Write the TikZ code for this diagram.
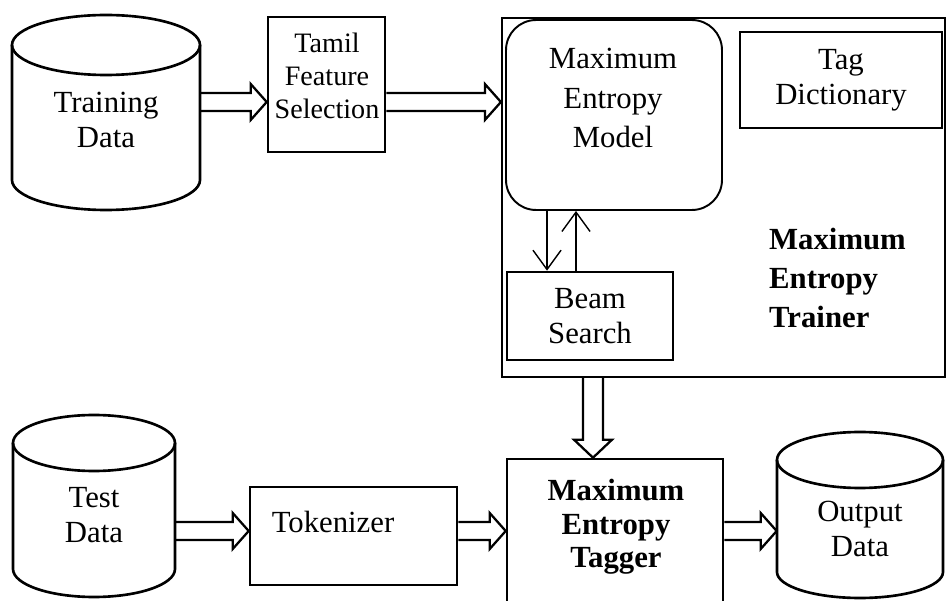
\documentclass[tikz,border=0pt]{standalone}
\usepackage{fontspec}
\setmainfont{Liberation Serif}
\usetikzlibrary{arrows.meta, calc}

\tikzset{
  box/.style={draw, line width=1.5pt, inner sep=0pt},
  txt/.style={align=center, font=\fontsize{17.5}{20}\selectfont},
  btxt/.style={align=center, font=\bfseries\fontsize{17.5}{19}\selectfont},
  hblock/.style={line width=1.3pt, to path={($(\tikztostart)+(0,-9)$) -- ($(\tikztotarget)+(-16,-9)$)
      -- ($(\tikztotarget)+(-16,-18)$) -- (\tikztotarget) -- ($(\tikztotarget)+(-16,18)$)
      -- ($(\tikztotarget)+(-16,9)$) -- ($(\tikztostart)+(0,9)$)}},
  vblock/.style={line width=1.3pt, to path={($(\tikztostart)+(-10,0)$) -- ($(\tikztotarget)+(-10,-18)$)
      -- ($(\tikztotarget)+(-19,-18)$) -- (\tikztotarget) -- ($(\tikztotarget)+(19,-18)$)
      -- ($(\tikztotarget)+(10,-18)$) -- ($(\tikztostart)+(10,0)$)}}
}

\begin{document}
\begin{tikzpicture}[x=0.02cm, y=-0.02cm, >={Straight Barb[length=11pt,width=16pt]}]
  \useasboundingbox (0,0) rectangle (948,601);
  \clip (0,0) rectangle (948,601);

  % Training data
  \draw[line width=1.5pt] (12,45) -- (12,180) arc[start angle=180, end angle=0, x radius=94, y radius=30] -- (200,45);
  \draw[line width=1.5pt] (106,45) ellipse[x radius=94, y radius=30];
  \node[txt, minimum width=3.76cm] (train) at (106,120) {Training\\Data};

  % Tamil feature selection
  \node[box, minimum width=2.34cm, minimum height=2.7cm] (tamil) at (326.5,84.5) {};
  \node[txt, font=\fontsize{16}{19}\selectfont] (tamiltxt) at (327,76) {Tamil\\Feature\\Selection};

  % Trainer
  \node[box, line width=1.3pt, minimum width=8.86cm, minimum height=7.18cm] (trainer) at (723.5,197.5) {};
  \node[box, rounded corners=0.6cm, line width=1.1pt, minimum width=4.32cm, minimum height=3.8cm] (model) at (614,115) {};
  \node[txt, font=\fontsize{17.5}{22.5}\selectfont] (modeltxt) at (613,98) {Maximum\\Entropy\\Model};
  \node[box, txt, minimum width=4.04cm, minimum height=1.92cm] (tag) at (841,80) {Tag\\Dictionary};
  \node[box, txt, minimum width=3.32cm, minimum height=1.76cm] (beam) at (590,316) {Beam\\Search};
  \node[btxt, align=left, anchor=west, font=\bfseries\fontsize{17.5}{22}\selectfont] (trainlbl) at (763,278) {Maximum\\Entropy\\Trainer};

  % Model <-> beam search
  \coordinate (dn) at (547,0);
  \coordinate (up) at (576,0);
  \draw[->, line width=0.8pt] (model.south -| dn) -- (beam.north -| dn);
  \draw[->, line width=0.8pt] (beam.north -| up) -- (model.south -| up);

  % Test data
  \draw[line width=1.5pt] (13,443) -- (13,569) arc[start angle=180, end angle=0, x radius=81, y radius=28] -- (175,443);
  \draw[line width=1.5pt] (94,443) ellipse[x radius=81, y radius=28];
  \node[txt, minimum width=3.24cm] (test) at (94,515) {Test\\Data};

  % Tokenizer and tagger
  \node[box, minimum width=4.14cm, minimum height=1.96cm] (tok) at (353.5,536) {};
  \node[txt] (toktxt) at (333,522) {Tokenizer};
  \node[box, minimum width=4.32cm, minimum height=3.62cm] (tagger) at (615,549.5) {};
  \node[btxt] (taggertxt) at (616,527) {Maximum\\Entropy\\Tagger};

  % Output data
  \draw[line width=1.5pt] (777,460) -- (777,572) arc[start angle=180, end angle=0, x radius=83, y radius=26] -- (943,460);
  \draw[line width=1.5pt] (860,460) ellipse[x radius=83, y radius=28];
  \node[txt, minimum width=3.32cm] (out) at (860,529) {Output\\Data};

  % Block arrows
  \coordinate (row1) at (0,102);
  \coordinate (row2) at (0,531);
  \coordinate (col) at (593,0);
  \draw[hblock] (train.east |- row1) to (tamil.west |- row1);
  \draw[hblock] (tamil.east |- row1) to (trainer.west |- row1);
  \draw[vblock] (trainer.south -| col) to (tagger.north -| col);
  \draw[hblock] (test.east |- row2) to (tok.west |- row2);
  \draw[hblock] (tok.east |- row2) to (tagger.west |- row2);
  \draw[hblock] (tagger.east |- row2) to (out.west |- row2);
\end{tikzpicture}
\end{document}
